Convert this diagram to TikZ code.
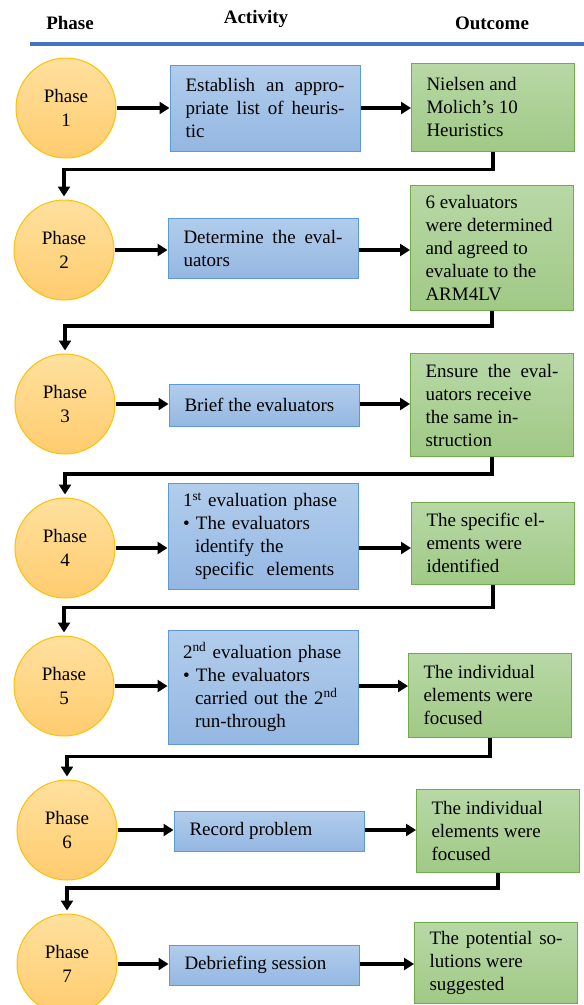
\documentclass[tikz,border=0pt]{standalone}
\usepackage{fontspec}
\setmainfont{Liberation Serif}
\usepackage{tikz}
\usetikzlibrary{arrows.meta}

\definecolor{headline}{RGB}{68,114,196}
\definecolor{phaseline}{RGB}{255,192,0}
\definecolor{phasetop}{RGB}{255,224,158}
\definecolor{phasebot}{RGB}{255,204,110}
\definecolor{actline}{RGB}{91,155,213}
\definecolor{acttop}{RGB}{178,205,236}
\definecolor{actbot}{RGB}{148,183,226}
\definecolor{outline}{RGB}{112,173,71}
\definecolor{outtop}{RGB}{184,216,166}
\definecolor{outbot}{RGB}{160,201,134}

\begin{document}
\begin{tikzpicture}
            [
                x=1pt, y=-1pt,
                font=\fontsize{19}{23}\selectfont,
                phase/.style={circle, draw=phaseline, line width=1pt,
                    top color=phasetop, bottom color=phasebot,
                    minimum size=100pt, inner sep=0pt, align=center,
                    font=\fontsize{19}{24}\selectfont},
                actbox/.style={rectangle, draw=actline, line width=1pt,
                    top color=acttop, bottom color=actbot,
                    text width=159pt, inner xsep=15.5pt, inner ysep=0pt, align=justify},
                listbox/.style={actbox, text width=172pt, inner xsep=9pt, align=left},
                outbox/.style={rectangle, draw=outline, line width=1pt,
                    top color=outtop, bottom color=outbot,
                    text width=133pt, inner xsep=15pt, inner ysep=0pt, align=justify},
                head/.style={font=\fontsize{19}{22}\selectfont\bfseries},
                link/.style={line width=3.5pt, -{Triangle[length=10pt,width=12pt]}},
                drop/.style={link, shorten >=3pt}
            ]
            \useasboundingbox (0,0) rectangle (584,1005);

            % header
            \node [head] (hphase) at (70,23) {Phase};
            \node [head] (hact) at (256,19) {Activity};
            \node [head] (hout) at (492,23) {Outcome};
            \draw [headline, line width=4pt] (30,44) -- (584,44);

            % phase 1
            \node [phase] (p1) at (66,108) {Phase\\1};
            \node [actbox, minimum height=86pt] (a1) at (265,108)
                {Establish an appro-\linebreak priate list of heuris-\linebreak tic};
            \node [outbox, minimum height=88pt] (o1) at (493,107)
                {Nielsen and\\ Molich's 10\\ Heuristics};

            % phase 2
            \node [phase] (p2) at (64,250) {Phase\\2};
            \node [actbox, minimum height=60pt] (a2) at (263,248)
                {Determine the eval-\linebreak uators};
            \node [outbox, minimum height=125pt] (o2) at (492,248)
                {6 evaluators\\ were determined\\ and agreed to\\ evaluate to the\\ ARM4LV};

            % phase 3
            \node [phase] (p3) at (65,404) {Phase\\3};
            \node [actbox, minimum height=42pt] (a3) at (264,405)
                {Brief the evaluators};
            \node [outbox, minimum height=103pt] (o3) at (492,405)
                {Ensure the eval-\linebreak uators receive\\ the same in-\\ struction};

            % phase 4
            \node [phase] (p4) at (65,548) {Phase\\4};
            \node [listbox, minimum height=106pt] (a4) at (263,536)
                {\hspace*{6pt}1\textsuperscript{st} evaluation phase\\
                 \hspace*{6pt}\textbullet\ The evaluators\\
                 \hspace*{18pt}identify the\\
                 \hspace*{18pt}specific\ \ elements};
            \node [outbox, minimum height=82pt] (o4) at (493,543)
                {The specific el-\\ ements were\\ identified};

            % phase 5
            \node [phase] (p5) at (64,686) {Phase\\5};
            \node [listbox, minimum height=114pt] (a5) at (263,687)
                {\hspace*{6pt}2\textsuperscript{nd} evaluation phase\\
                 \hspace*{6pt}\textbullet\ The evaluators\\
                 \hspace*{18pt}carried out the 2\textsuperscript{nd}\\
                 \hspace*{18pt}run-through};
            \node [outbox, minimum height=84pt] (o5) at (490,695)
                {The individual\\ elements were\\ focused};

            % phase 6
            \node [phase] (p6) at (67,830) {Phase\\6};
            \node [actbox, minimum height=40pt] (a6) at (269,831)
                {Record problem};
            \node [outbox, minimum height=83pt] (o6) at (498,831)
                {The individual\\ elements were\\ focused};

            % phase 7
            \node [phase] (p7) at (67,964) {Phase\\7};
            \node [actbox, minimum height=40pt] (a7) at (264,965)
                {Debriefing session};
            \node [outbox, minimum height=81pt] (o7) at (496,963)
                {The potential so-\linebreak lutions were\\ suggested};

            % arrows along each row
            \foreach \i in {1,...,7} {
                \draw [link] (p\i) -- (p\i -| a\i.west);
                \draw [link] (a\i.east |- p\i) -- (o\i.west |- p\i);
            }

            % arrows down to the next phase
            \draw [drop] (o1.south) -- ++(0,18) -| (p2.north);
            \draw [drop] (o2.south) -- ++(0,15) -| (p3.north);
            \draw [drop] (o3.south) -- ++(0,17) -| (p4.north);
            \draw [drop] (o4.south) -- ++(0,23) -| (p5.north);
            \draw [drop] (o5.south) -- ++(0,19) -| (p6.north);
            \draw [drop] (o6.south) -- ++(0,15) -| (p7.north);
        \end{tikzpicture}
\end{document}
